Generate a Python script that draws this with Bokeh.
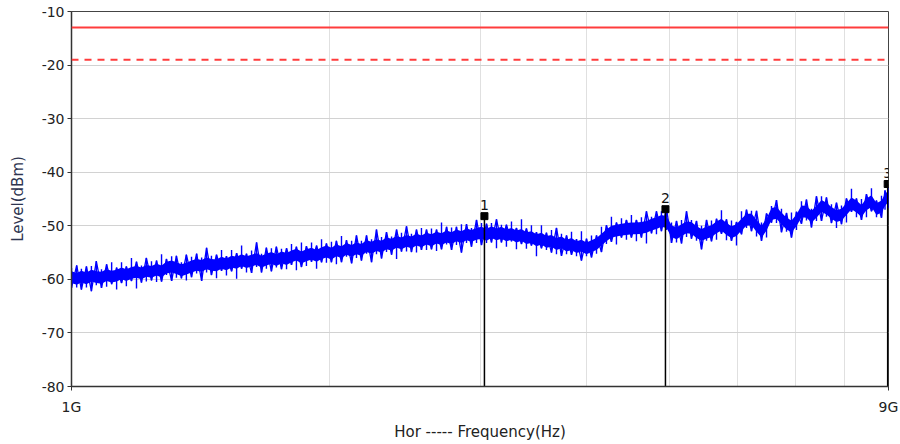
from bokeh.plotting import figure
from bokeh.models import Range1d, FixedTicker, Span, ColumnDataSource
from bokeh.core.properties import value
from bokeh.embed import file_html
from bokeh.resources import INLINE

# ---------------- data ----------------
FREQ_GHZ = [1.000, 1.014, 1.027, 1.041, 1.055, 1.069, 1.084, 1.099, 1.114, 1.129,
            1.144, 1.159, 1.175, 1.191, 1.207, 1.223, 1.240, 1.257, 1.274, 1.291,
            1.309, 1.326, 1.344, 1.362, 1.381, 1.400, 1.419, 1.438, 1.457, 1.477,
            1.497, 1.517, 1.538, 1.559, 1.580, 1.601, 1.623, 1.645, 1.667, 1.689,
            1.712, 1.735, 1.759, 1.783, 1.807, 1.831, 1.856, 1.881, 1.907, 1.933,
            1.959, 1.985, 2.012, 2.039, 2.067, 2.095, 2.124, 2.152, 2.181, 2.211,
            2.241, 2.271, 2.302, 2.333, 2.365, 2.397, 2.429, 2.462, 2.495, 2.529,
            2.563, 2.598, 2.633, 2.669, 2.705, 2.742, 2.779, 2.816, 2.854, 2.893,
            2.932, 2.972, 3.012, 3.053, 3.094, 3.136, 3.178, 3.221, 3.265, 3.309,
            3.354, 3.399, 3.445, 3.492, 3.539, 3.587, 3.636, 3.685, 3.735, 3.786,
            3.837, 3.889, 3.941, 3.995, 4.049, 4.104, 4.159, 4.215, 4.272, 4.330,
            4.389, 4.448, 4.508, 4.569, 4.631, 4.694, 4.758, 4.822, 4.887, 4.954,
            5.021, 5.089, 5.158, 5.228, 5.298, 5.370, 5.443, 5.517, 5.591, 5.667,
            5.743, 5.821, 5.900, 5.980, 6.061, 6.143, 6.226, 6.311, 6.396, 6.483,
            6.570, 6.659, 6.749, 6.841, 6.933, 7.027, 7.122, 7.218, 7.316, 7.415,
            7.516, 7.617, 7.720, 7.825, 7.931, 8.038, 8.147, 8.257, 8.369, 8.482,
            8.597, 8.714, 8.832, 8.916, 9.000]

LEVEL_MID = [-59.6, -59.9, -59.5, -59.8, -59.3, -59.6, -59.7, -59.2, -59.5, -59.3,
             -58.9, -59.2, -58.8, -58.6, -58.9, -58.4, -58.6, -58.2, -58.5, -57.8,
             -57.6, -57.9, -58.3, -58.0, -57.6, -57.3, -57.5, -57.0, -57.3, -57.4,
             -56.9, -57.2, -56.7, -56.9, -56.4, -56.8, -56.5, -56.2, -56.7, -56.3,
             -56.0, -56.4, -55.9, -56.2, -55.7, -55.4, -55.9, -55.5, -55.2, -55.6,
             -55.1, -54.8, -55.2, -54.6, -54.9, -54.3, -54.7, -54.2, -54.5, -53.8,
             -54.1, -53.6, -53.9, -53.3, -53.5, -53.0, -53.3, -52.8, -53.1, -52.6,
             -52.9, -52.4, -52.7, -52.2, -52.5, -52.0, -52.3, -51.8, -52.1, -51.6,
             -51.9, -51.5, -51.3, -51.7, -51.2, -51.6, -51.3, -51.8, -51.5, -52.0,
             -51.7, -52.3, -52.1, -52.7, -52.4, -53.0, -52.8, -53.4, -53.1, -53.7,
             -53.4, -54.0, -53.7, -54.2, -53.8, -53.4, -52.6, -51.8, -51.1, -50.9,
             -50.7, -50.6, -50.5, -50.5, -50.4, -50.2, -49.8, -49.5, -49.1, -49.3,
             -51.0, -51.4, -50.8, -50.3, -50.4, -51.2, -51.7, -51.3, -51.0, -50.3,
             -49.8, -50.6, -51.2, -50.8, -49.8, -48.9, -48.8, -50.0, -51.1, -49.8,
             -47.8, -47.6, -48.6, -49.6, -50.1, -49.0, -47.3, -47.4, -48.3, -47.4,
             -46.3, -46.8, -47.6, -48.2, -47.9, -46.9, -45.8, -46.4, -47.2, -46.0,
             -45.4, -46.9, -46.4, -45.2, -44.4]

# downward / upward excursions of the noise around LEVEL_MID (dB)
DEV_DOWN = [2.0, 1.6, 2.4, 1.7, 2.9, 1.5, 1.9, 2.2, 1.4, 2.6,
            1.8, 2.1, 1.5, 3.1, 1.7, 2.0, 1.6, 2.3, 1.9, 1.4,
            2.7, 1.8, 1.5, 2.2, 2.0, 1.6, 2.8, 1.7, 1.9, 2.4,
            1.5, 2.1, 1.8, 3.0, 1.6, 1.9, 2.3, 1.5, 2.0, 1.7,
            2.5, 1.4, 2.2, 1.9, 1.6, 2.9, 1.8, 2.0, 1.5, 2.4,
            1.7, 2.1, 1.6, 2.6, 1.9, 1.5, 2.3, 1.8, 2.0, 1.4,
            2.7, 1.7, 2.2, 1.6, 1.9, 3.2, 1.5, 2.0, 1.8, 2.4,
            1.6, 2.1, 1.7, 2.5, 1.9, 1.5, 2.2, 1.8, 2.9, 1.6,
            2.0, 1.7, 2.3, 1.5, 1.9, 2.6, 1.8, 2.1, 1.4, 2.4,
            1.7, 2.0, 1.6, 3.0, 1.8, 1.5, 2.2, 1.9, 2.5, 1.6,
            2.0, 1.7, 2.8, 1.5, 2.1, 1.8, 2.3, 1.6, 1.9, 2.6,
            1.5, 2.0, 1.7, 2.4, 1.8, 3.1, 1.6, 2.1, 1.9, 1.5,
            2.2, 1.7, 2.5, 1.8, 2.0, 1.6, 2.7, 1.5, 1.9, 2.3,
            1.7, 2.1, 1.6, 2.9, 1.8, 1.5, 2.2, 2.0, 1.7, 2.4,
            1.6, 1.9, 2.6, 1.5, 2.1, 1.8, 2.3, 1.6, 2.0, 1.7,
            2.8, 1.5, 1.9, 2.2, 1.8, 2.5, 1.6, 2.0, 1.7, 2.4,
            1.9, 1.5, 2.1, 1.8, 2.3]

DEV_UP = [1.7, 2.5, 1.5, 2.2, 1.8, 3.0, 1.6, 2.0, 2.7, 1.5,
          2.1, 1.6, 2.8, 1.9, 1.5, 2.4, 2.0, 1.7, 3.2, 1.6,
          1.9, 2.3, 1.5, 2.6, 1.8, 2.1, 1.6, 2.9, 1.7, 2.0,
          2.4, 1.5, 2.2, 1.8, 2.7, 1.6, 1.9, 3.1, 1.5, 2.2,
          1.8, 2.5, 1.6, 2.0, 2.3, 1.5, 2.8, 1.7, 2.1, 1.9,
          2.6, 1.5, 2.2, 1.8, 3.0, 1.6, 1.9, 2.4, 1.7, 2.0,
          1.6, 2.9, 1.8, 2.1, 1.5, 2.3, 2.0, 2.7, 1.6, 1.9,
          2.5, 1.7, 2.2, 1.5, 3.1, 1.8, 2.0, 1.6, 2.4, 1.9,
          1.5, 2.6, 1.8, 2.1, 1.7, 2.8, 1.5, 2.0, 2.3, 1.6,
          2.9, 1.8, 2.2, 1.5, 2.5, 1.7, 2.0, 3.0, 1.6, 1.9,
          2.3, 1.5, 2.7, 1.8, 2.0, 1.6, 2.4, 1.9, 2.8, 1.5,
          2.1, 1.7, 2.5, 1.6, 2.0, 2.9, 1.5, 2.2, 1.8, 2.6,
          1.6, 2.3, 1.9, 3.0, 1.5, 2.1, 1.7, 2.4, 2.0, 1.6,
          2.7, 1.8, 2.2, 1.5, 2.5, 1.9, 1.6, 2.8, 1.7, 2.1,
          1.5, 2.4, 1.8, 2.0, 2.6, 1.6, 1.9, 2.3, 1.5, 2.9,
          1.8, 2.1, 1.6, 2.5, 1.7, 2.0, 2.7, 1.5, 2.2, 1.9,
          2.4, 1.6, 2.0, 1.8, 1.5]

LIMIT_SOLID = -13.0
LIMIT_DASHED = -19.0

MARKER_FREQ = [3.036, 4.940, 8.98]
MARKER_LEVEL = [-48.2, -46.9, -42.2]
MARKER_TEXT = ["1", "2", "3"]

X_TICKS = [1, 9]
X_TICK_LABELS = ["1G", "9G"]
X_GRID = [2, 3, 4, 5, 6, 7, 8]
Y_TICKS = [-80, -70, -60, -50, -40, -30, -20, -10]
Y_TICK_LABELS = ["-80", "-70", "-60", "-50", "-40", "-30", "-20", "-10"]

FONT = "DejaVu Sans"
CORE_HALF = 1.1  # half width (dB) of the dense core of the noise band

# ---------------- figure ----------------
p = figure(width=900, height=444, x_axis_type="log",
           x_range=Range1d(1, 9), y_range=Range1d(-80, -10),
           output_backend="svg", toolbar_location=None,
           min_border_left=71, min_border_right=12,
           min_border_top=11, min_border_bottom=58)
p.background_fill_color = "white"
p.border_fill_color = "white"
p.outline_line_color = "#444444"
p.outline_line_width = 1

# grid
p.xgrid.ticker = FixedTicker(ticks=X_GRID)
p.xgrid.grid_line_color = "#e0e0e0"
p.ygrid.ticker = FixedTicker(ticks=Y_TICKS)
p.ygrid.grid_line_color = "#d2d2d2"

# axes
p.xaxis.ticker = FixedTicker(ticks=X_TICKS)
p.xaxis.major_label_overrides = {t: l for t, l in zip(X_TICKS, X_TICK_LABELS)}
p.xaxis.minor_tick_line_color = None
p.yaxis.ticker = FixedTicker(ticks=Y_TICKS)
p.yaxis.major_label_overrides = {t: l for t, l in zip(Y_TICKS, Y_TICK_LABELS)}
p.yaxis.minor_tick_line_color = None
for ax in (p.xaxis[0], p.yaxis[0]):
    ax.axis_line_color = "#333333"
    ax.axis_line_width = 1.5
    ax.major_tick_line_color = "#333333"
    ax.major_tick_in = 0
    ax.major_tick_out = 4
    ax.major_label_text_font = FONT
    ax.major_label_text_font_size = "14px"
    ax.major_label_text_color = "#222222"
    ax.axis_label_text_font = FONT
    ax.axis_label_text_font_size = "15px"
    ax.axis_label_text_font_style = "normal"
    ax.axis_label_text_color = "#222222"
p.yaxis.major_label_standoff = 3
p.xaxis.major_label_standoff = 8
p.xaxis.axis_label = "Hor ----- Frequency(Hz)"
p.xaxis.axis_label_standoff = 5
p.yaxis.axis_label = "Level(dBm)"
p.yaxis.axis_label_standoff = 12
p.yaxis.axis_label_text_color = "#2e3550"

# limit lines
p.add_layout(Span(location=LIMIT_SOLID, dimension="width",
                  line_color="#ff3c3c", line_width=2))
p.add_layout(Span(location=LIMIT_DASHED, dimension="width",
                  line_color="#ff3c3c", line_width=2, line_dash="7 6"))

# noisy trace: dense core, zig-zag sweep and individual noise spikes
core_lo = [m - CORE_HALF for m in LEVEL_MID]
core_hi = [m + CORE_HALF for m in LEVEL_MID]
spike_lo = [m - d for m, d in zip(LEVEL_MID, DEV_DOWN)]
spike_hi = [m + u for m, u in zip(LEVEL_MID, DEV_UP)]
zig = [lo if i % 2 == 0 else hi for i, (lo, hi) in enumerate(zip(spike_lo, spike_hi))]
p.varea(x=FREQ_GHZ, y1=core_lo, y2=core_hi, fill_color="#0000ff", fill_alpha=1.0)
p.line(x=FREQ_GHZ, y=zig, line_color="#0000ff", line_width=1.3)
p.segment(x0=FREQ_GHZ, y0=spike_lo, x1=FREQ_GHZ, y1=spike_hi,
          line_color="#0000ff", line_width=1.4)

# markers
src = ColumnDataSource(dict(x=MARKER_FREQ, y=MARKER_LEVEL, t=MARKER_TEXT,
                            y0=[p.y_range.start] * len(MARKER_FREQ)))
p.segment(x0="x", y0="y0", x1="x", y1="y", source=src,
          line_color="black", line_width=1.5)
p.scatter(x="x", y="y", source=src, marker="square", size=7,
          fill_color="black", line_color="black")
p.text(x="x", y="y", text="t", source=src, y_offset=-6,
       text_align="center", text_baseline="bottom",
       text_font=value(FONT), text_font_size="14px", text_color="#111111")

open("out.html", "w").write(file_html(p, INLINE))
